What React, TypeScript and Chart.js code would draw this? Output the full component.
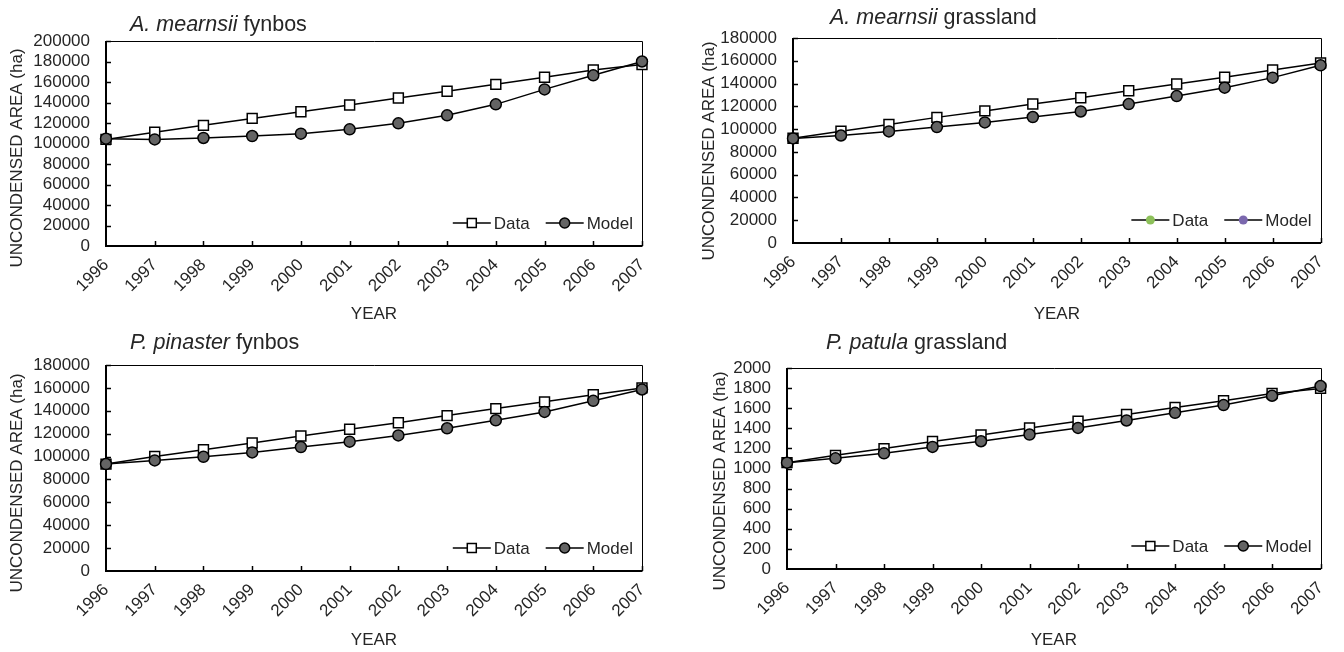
import React, { useEffect, useRef } from "react";
import { Chart, registerables } from "chart.js";

Chart.register(...registerables);

// ---------- data ----------
const years = ["1996", "1997", "1998", "1999", "2000", "2001", "2002", "2003", "2004", "2005", "2006", "2007"];

const amFynbosData = [104000, 111000, 117700, 124500, 131000, 137600, 144400, 151000, 157700, 164600, 171700, 177000];
const amFynbosModel = [104700, 104000, 105400, 107300, 109600, 113800, 119700, 127500, 138200, 152800, 166500, 180000];

const amGrassData = [92000, 98200, 104000, 110300, 116000, 122000, 127600, 133700, 139600, 145500, 151900, 158000];
const amGrassModel = [91800, 94400, 98000, 101800, 105900, 110600, 115500, 122000, 129000, 136400, 145200, 156000];

const ppFynbosData = [93400, 100000, 106000, 111800, 118000, 123800, 129600, 135800, 141900, 147800, 154000, 160000];
const ppFynbosModel = [93400, 96600, 99800, 103600, 108300, 113000, 118500, 124700, 131700, 139000, 148700, 158600];

const ppGrassData = [1058, 1131, 1198, 1268, 1334, 1404, 1471, 1537, 1607, 1674, 1747, 1797];
const ppGrassModel = [1058, 1101, 1151, 1215, 1271, 1338, 1404, 1478, 1554, 1631, 1724, 1820];

const yMaxes = [200000, 180000, 180000, 2000];
const ySteps = [20000, 20000, 20000, 200];
const seriesNames = ["Data", "Model"];
const yTitle = "UNCONDENSED AREA (ha)";
const xTitle = "YEAR";

const FONT = "'Liberation Sans', Arial, sans-serif";
const TXT = "#262626";
const GRAY = "#646464";
const TICK_SIZE = 17;
const AXIS_TITLE_SIZE = 17;
const TITLE_SIZE = 21.5;
const LEGEND_SIZE = 17;

type PanelCfg = {
  italic: string;
  rest: string;
  data: number[];
  model: number[];
  yMax: number;
  yStep: number;
  box: { x: number; y: number; w: number; h: number };
  pad: { left: number; top: number; right: number };
  yWidth: number;
  xHeight: number;
  titleDx: number;
  titleY: number;
  yTitlePos: [number, number];
  legendColors?: [string, string];
};

const panels: PanelCfg[] = [
  {
    italic: "A. mearnsii", rest: " fynbos", data: amFynbosData, model: amFynbosModel,
    yMax: yMaxes[0], yStep: ySteps[0],
    box: { x: 0, y: 0, w: 672, h: 326 }, pad: { left: 3, top: 41, right: 30 },
    yWidth: 103, xHeight: 80, titleDx: 24, titleY: 25, yTitlePos: [17, 158],
  },
  {
    italic: "A. mearnsii", rest: " grassland", data: amGrassData, model: amGrassModel,
    yMax: yMaxes[1], yStep: ySteps[1],
    box: { x: 672, y: 0, w: 672, h: 326 }, pad: { left: 23, top: 38, right: 13 },
    yWidth: 98, xHeight: 83, titleDx: 37, titleY: 18, yTitlePos: [37, 151],
    legendColors: ["#8dc05a", "#7b68ae"],
  },
  {
    italic: "P. pinaster", rest: " fynbos", data: ppFynbosData, model: ppFynbosModel,
    yMax: yMaxes[2], yStep: ySteps[2],
    box: { x: 0, y: 326, w: 672, h: 326 }, pad: { left: 3, top: 39, right: 30 },
    yWidth: 103, xHeight: 81, titleDx: 24, titleY: 17, yTitlePos: [17, 157],
  },
  {
    italic: "P. patula", rest: " grassland", data: ppGrassData, model: ppGrassModel,
    yMax: yMaxes[3], yStep: ySteps[3],
    box: { x: 672, y: 326, w: 672, h: 326 }, pad: { left: 34, top: 42, right: 6 },
    yWidth: 81, xHeight: 83, titleDx: 39, titleY: 17, yTitlePos: [48, 155],
  },
];

function Panel({ cfg }: { cfg: PanelCfg }) {
  const ref = useRef<HTMLCanvasElement | null>(null);

  useEffect(() => {
    if (!ref.current) return;

    const framePlugin = {
      id: "frame",
      beforeDatasetsDraw(chart: any) {
        const { ctx, chartArea: a, scales } = chart;
        ctx.save();
        ctx.strokeStyle = "#000";
        ctx.lineWidth = 1.5;
        const xs = scales.x;
        for (let i = 1; i < xs.ticks.length; i++) {
          const px = Math.round(xs.getPixelForTick(i)) + 0.5;
          ctx.beginPath();
          ctx.moveTo(px, a.bottom);
          ctx.lineTo(px, a.bottom - 5);
          ctx.stroke();
        }
        const ys = scales.y;
        for (let i = 1; i < ys.ticks.length; i++) {
          const py = Math.round(ys.getPixelForTick(i)) + 0.5;
          ctx.beginPath();
          ctx.moveTo(a.left, py);
          ctx.lineTo(a.left + 5, py);
          ctx.stroke();
        }
        ctx.lineWidth = 1;
        ctx.beginPath();
        ctx.moveTo(a.left, Math.round(a.top) + 0.5);
        ctx.lineTo(Math.round(a.right) + 0.5, Math.round(a.top) + 0.5);
        ctx.lineTo(Math.round(a.right) + 0.5, a.bottom);
        ctx.stroke();
        ctx.lineWidth = 2;
        ctx.beginPath();
        ctx.moveTo(Math.round(a.left), a.top);
        ctx.lineTo(Math.round(a.left), Math.round(a.bottom));
        ctx.lineTo(a.right + 0.5, Math.round(a.bottom));
        ctx.stroke();
        ctx.restore();
      },
      afterDraw(chart: any) {
        const { ctx, chartArea: a } = chart;
        ctx.save();
        ctx.fillStyle = TXT;
        ctx.textBaseline = "middle";
        ctx.textAlign = "left";
        // panel title (italic species + regular habitat)
        ctx.font = `italic ${TITLE_SIZE}px ${FONT}`;
        const tx = a.left + cfg.titleDx;
        ctx.fillText(cfg.italic, tx, cfg.titleY);
        const w1 = ctx.measureText(cfg.italic).width;
        ctx.font = `${TITLE_SIZE}px ${FONT}`;
        ctx.fillText(cfg.rest, tx + w1, cfg.titleY);

        // y axis title
        ctx.save();
        ctx.font = `${AXIS_TITLE_SIZE}px ${FONT}`;
        ctx.translate(cfg.yTitlePos[0], cfg.yTitlePos[1]);
        ctx.rotate(-Math.PI / 2);
        ctx.textAlign = "center";
        ctx.fillText(yTitle, 0, 0);
        ctx.restore();

        // legend
        ctx.font = `${LEGEND_SIZE}px ${FONT}`;
        const ly = a.bottom - 23;
        const symLen = 38;
        const gapText = 3;
        const gapItems = 16;
        const widths = seriesNames.map((n) => ctx.measureText(n).width);
        const total = symLen + gapText + widths[0] + gapItems + symLen + gapText + widths[1];
        let x = a.right - 9 - total;
        seriesNames.forEach((name, i) => {
          ctx.strokeStyle = "#000";
          ctx.lineWidth = 1.5;
          ctx.beginPath();
          ctx.moveTo(x, ly);
          ctx.lineTo(x + symLen, ly);
          ctx.stroke();
          const cx = x + symLen / 2;
          if (cfg.legendColors) {
            ctx.fillStyle = cfg.legendColors[i];
            ctx.beginPath();
            ctx.arc(cx, ly, 4.5, 0, Math.PI * 2);
            ctx.fill();
          } else if (i === 0) {
            ctx.fillStyle = "#fff";
            ctx.fillRect(cx - 4.5, ly - 4.5, 9, 9);
            ctx.strokeRect(cx - 4.5, ly - 4.5, 9, 9);
          } else {
            ctx.fillStyle = GRAY;
            ctx.beginPath();
            ctx.arc(cx, ly, 5, 0, Math.PI * 2);
            ctx.fill();
            ctx.stroke();
          }
          ctx.fillStyle = TXT;
          ctx.textAlign = "left";
          ctx.fillText(name, x + symLen + gapText, ly + 1);
          x += symLen + gapText + widths[i] + gapItems;
        });
        ctx.restore();
      },
    };

    const chart = new Chart(ref.current, {
      type: "line",
      data: {
        labels: years,
        datasets: [
          {
            label: seriesNames[1],
            data: cfg.model,
            borderColor: "#000",
            borderWidth: 1.5,
            backgroundColor: GRAY,
            pointStyle: "circle",
            pointRadius: 5.5,
            pointBorderWidth: 1.5,
            pointBorderColor: "#000",
            pointBackgroundColor: GRAY,
            tension: 0,
            clip: false,
            order: 0,
          },
          {
            label: seriesNames[0],
            data: cfg.data,
            borderColor: "#000",
            borderWidth: 1.5,
            backgroundColor: "#fff",
            pointStyle: "rect",
            pointRadius: 7,
            pointBorderWidth: 1.5,
            pointBorderColor: "#000",
            pointBackgroundColor: "#fff",
            tension: 0,
            clip: false,
            order: 1,
          },
        ],
      },
      options: {
        animation: false,
        responsive: true,
        maintainAspectRatio: false,
        events: [],
        layout: { padding: { left: cfg.pad.left, top: cfg.pad.top, right: cfg.pad.right, bottom: 0 } },
        plugins: { legend: { display: false }, tooltip: { enabled: false }, title: { display: false } },
        scales: {
          x: {
            type: "category",
            offset: false,
            grid: { display: false, drawTicks: false },
            border: { display: false },
            ticks: {
              color: TXT,
              font: { family: FONT, size: TICK_SIZE },
              minRotation: 45,
              maxRotation: 45,
              autoSkip: false,
              padding: 9,
            },
            title: {
              display: true, text: xTitle, color: TXT,
              font: { family: FONT, size: AXIS_TITLE_SIZE },
              padding: { top: 4, bottom: 1 },
            },
            afterFit: (s: any) => { s.height = cfg.xHeight; },
          },
          y: {
            min: 0,
            max: cfg.yMax,
            grid: { display: false, drawTicks: false },
            border: { display: false },
            ticks: {
              stepSize: cfg.yStep,
              autoSkip: false,
              color: TXT,
              font: { family: FONT, size: TICK_SIZE },
              padding: 16,
              callback: (v: any) => String(v),
            },
            title: { display: false },
            afterFit: (s: any) => { s.width = cfg.yWidth; },
          },
        },
      },
      plugins: [framePlugin],
    } as any);

    return () => chart.destroy();
  }, [cfg]);

  return (
    <div style={{ position: "absolute", left: cfg.box.x, top: cfg.box.y, width: cfg.box.w, height: cfg.box.h }}>
      <canvas ref={ref} />
    </div>
  );
}

export default function App() {
  return (
    <div style={{ position: "absolute", left: 0, top: 0, width: 1344, height: 652, background: "#fff", overflow: "hidden" }}>
      {panels.map((p, i) => (
        <Panel key={i} cfg={p} />
      ))}
    </div>
  );
}
